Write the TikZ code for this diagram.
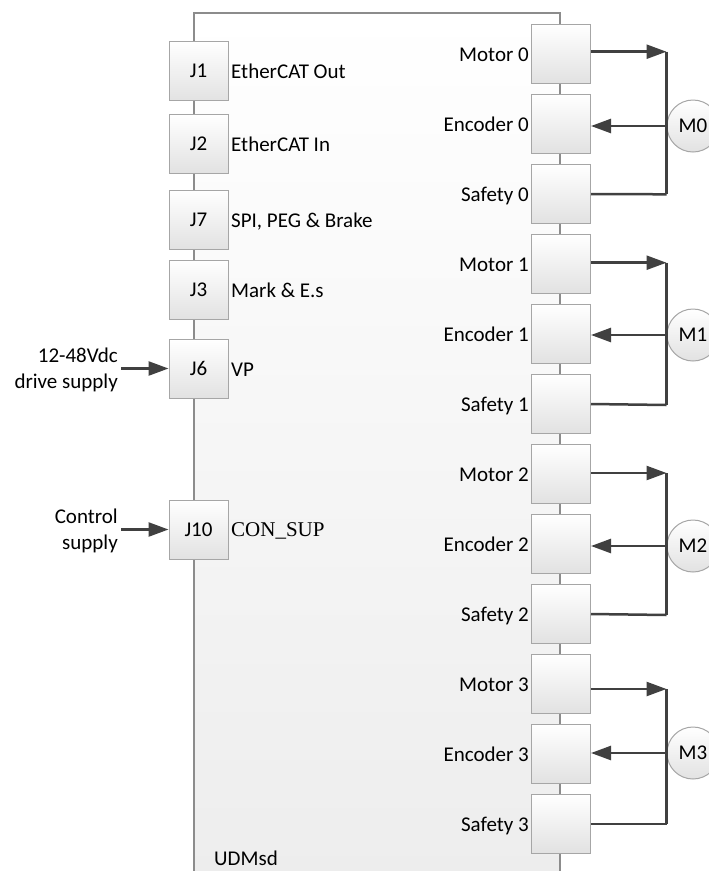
\documentclass[tikz,border=0pt]{standalone}
\usepackage{fontspec}
\setmainfont{Carlito}
\newfontfamily\timesfont{Liberation Serif}
\usetikzlibrary{arrows.meta,calc}
\definecolor{lin}{HTML}{404040}
\definecolor{edge}{HTML}{A6A6A6}
\definecolor{bodyedge}{HTML}{8C8C8C}
\definecolor{boxbot}{HTML}{E2E2E2}
\definecolor{bodybot}{HTML}{EDEDED}
\begin{document}
\begin{tikzpicture}[x=1pt,y=-1pt,
  every node/.style={font=\fontsize{21}{25}\selectfont, text=black},
  port/.style={draw=edge, line width=1pt, top color=white, bottom color=boxbot,
    minimum width=59pt, minimum height=59pt, inner sep=0pt},
  conn/.style={draw=lin, line width=2.5pt},
  arr/.style={conn, -{Triangle[length=20pt,width=14pt]}},
  motorc/.style={circle, draw=edge, line width=1pt, top color=white, bottom color=boxbot,
    minimum size=52pt, inner sep=0pt},
  lbl/.style={inner sep=0pt, anchor=base east},
  desc/.style={inner sep=0pt, anchor=base west}]

\clip (0,0) rectangle (709,871);
\fill[white] (0,0) rectangle (709,871);

% main body
\shade[top color=white, bottom color=bodybot] (194,13) rectangle (560,880);
\draw[bodyedge, line width=1.2pt] (194,880) -- (194,13) -- (560,13) -- (560,880);
\node[desc] (udm) at (214,865) {UDMsd};

% left ports
\foreach \n/\y/\t in {J1/71/EtherCAT Out, J2/143.5/EtherCAT In, J7/219.5/{SPI, PEG \& Brake},
                      J3/289.5/Mark \& E.s, J6/368.5/VP}{
  \node[port] (\n) at (198.5,\y) {\n};
  \node[desc] (d\n) at (231,\y+7.5) {\t};
}
\node[port] (J10) at (198.5,529.5) {J10};
\node[desc, font=\fontsize{21}{25}\selectfont\timesfont] (dJ10) at (231,536.5) {CON\_SUP};

% supplies
\node[lbl] (s1a) at (118,362) {12-48Vdc};
\node[lbl] (s1b) at (118,388) {drive supply};
\coordinate (s1) at (121,368.5);
\draw[arr] (s1) -- (J6.west);
\node[lbl] (s2a) at (118,523) {Control};
\node[lbl] (s2b) at (118,549) {supply};
\coordinate (s2) at (121,529.5);
\draw[arr] (s2) -- (J10.west);

% right ports and motors
\foreach \i/\cy/\dm/\ds in {0/126/-1.8/0.8, 1/335/-0.8/1.5, 2/546/-0.5/1.5, 3/753/5.5/0.5}{
  \pgfmathsetmacro\ym{53.5+210*\i}
  \pgfmathsetmacro\ye{123.5+210*\i}
  \pgfmathsetmacro\ys{193.5+210*\i}
  \node[port] (mot\i) at (561,\ym) {};
  \node[port] (enc\i) at (561,\ye) {};
  \node[port] (saf\i) at (561,\ys) {};
  \node[lbl] (lm\i) at (529,\ym+7.5) {Motor \i};
  \node[lbl] (le\i) at (529,\ye+7.5) {Encoder \i};
  \node[lbl] (ls\i) at (529,\ys+7.5) {Safety \i};
  \node[motorc] (M\i) at (693,\cy) {M\i};
  \draw[conn] ($(mot\i.east -| M\i.west)+(0,\dm)$) -- ($(saf\i.east -| M\i.west)+(0,\ds)$);
  \draw[arr] ($(mot\i.east)+(0,\dm)$) -- ($(mot\i.east -| M\i.west)+(0,\dm)$);
  \draw[conn] ($(saf\i.east)+(0,0.5)$) -- ($(saf\i.east -| M\i.west)+(0,\ds)$);
  \draw[arr] (M\i.west) -- (M\i.west -| enc\i.east);
}
\end{tikzpicture}
\end{document}
